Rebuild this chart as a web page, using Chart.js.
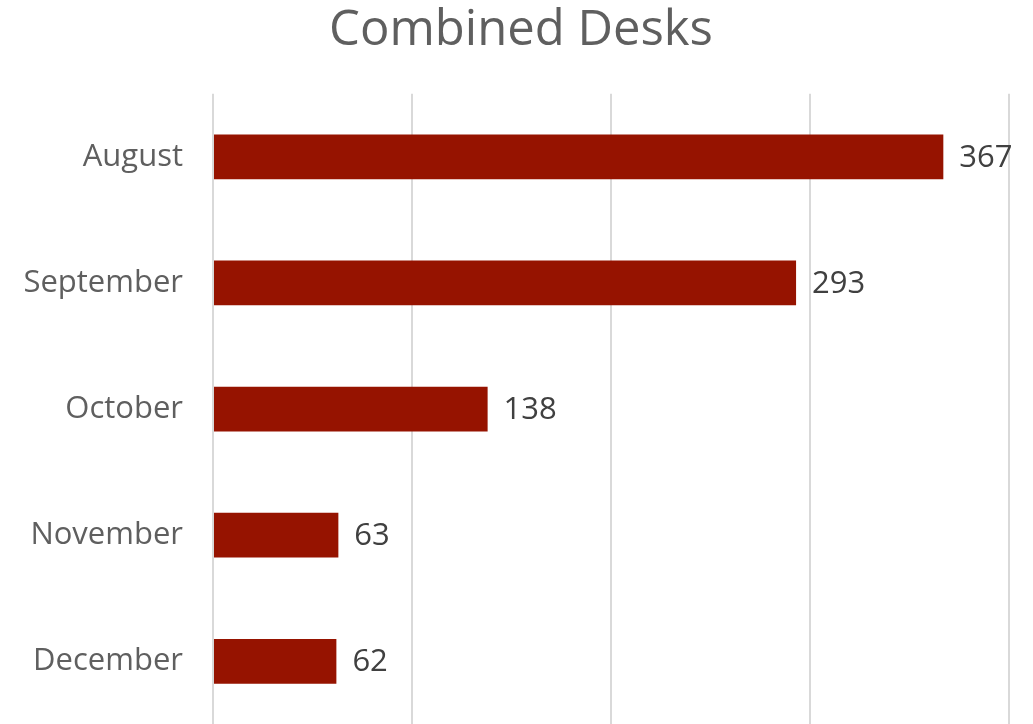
<!DOCTYPE html>
<html>
<head>
<meta charset="utf-8">
<script src="https://cdn.jsdelivr.net/npm/chart.js@4.4.0/dist/chart.umd.min.js"></script>
<style>
  html, body { margin: 0; padding: 0; background: #ffffff; overflow: hidden; }
  #wrap { position: relative; width: 1033px; height: 773px; }
</style>
</head>
<body>
<div id="wrap"><canvas id="c"></canvas></div>
<script>
const titleText = "Combined Desks";
const categories = ["August", "September", "October", "November", "December"];
const desks = [367, 293, 138, 63, 62];
const xTicks = [0, 100, 200, 300, 400];

const FONT = "'Open Sans', sans-serif";

const valueLabels = {
  id: 'valueLabels',
  afterDatasetsDraw(chart) {
    const ctx = chart.ctx;
    const meta = chart.getDatasetMeta(0);
    ctx.save();
    ctx.font = "31px " + FONT;
    ctx.fillStyle = "#404040";
    ctx.textAlign = "left";
    ctx.textBaseline = "middle";
    meta.data.forEach((bar, i) => {
      ctx.fillText(String(chart.data.datasets[0].data[i]), bar.x + 16, bar.y + 1);
    });
    ctx.restore();
  }
};

const shiftTitle = {
  id: 'shiftTitle',
  afterLayout(chart) {
    const t = chart.titleBlock;
    if (t) { t.left += 33; }
  }
};

new Chart(document.getElementById('c'), {
  type: 'bar',
  data: {
    labels: categories,
    datasets: [{
      data: desks,
      backgroundColor: '#961300',
      borderWidth: 0,
      categoryPercentage: 1,
      barPercentage: 0.355
    }]
  },
  options: {
    indexAxis: 'y',
    responsive: true,
    maintainAspectRatio: false,
    animation: false,
    layout: { padding: { left: 0, right: 24, top: 0, bottom: 0 } },
    plugins: {
      legend: { display: false },
      tooltip: { enabled: false },
      title: {
        display: true,
        text: titleText,
        color: '#5f5f5f',
        font: { family: FONT, size: 49, weight: 'normal' },
        padding: { top: 2, bottom: 33 }
      }
    },
    scales: {
      x: {
        min: 0, max: 400,
        afterBuildTicks(axis) { axis.ticks = xTicks.map(v => ({ value: v })); },
        ticks: { display: false },
        grid: { color: '#d9d9d9', lineWidth: 2, drawTicks: false },
        border: { display: false },
        afterFit(axis) { axis.height = 0; }
      },
      y: {
        ticks: {
          color: '#5f5f5f',
          font: { family: FONT, size: 31 },
          padding: 30
        },
        grid: { display: false, drawTicks: false },
        border: { display: false },
        afterFit(axis) { axis.width = 213; }
      }
    }
  },
  plugins: [valueLabels, shiftTitle]
});
</script>
</body>
</html>
